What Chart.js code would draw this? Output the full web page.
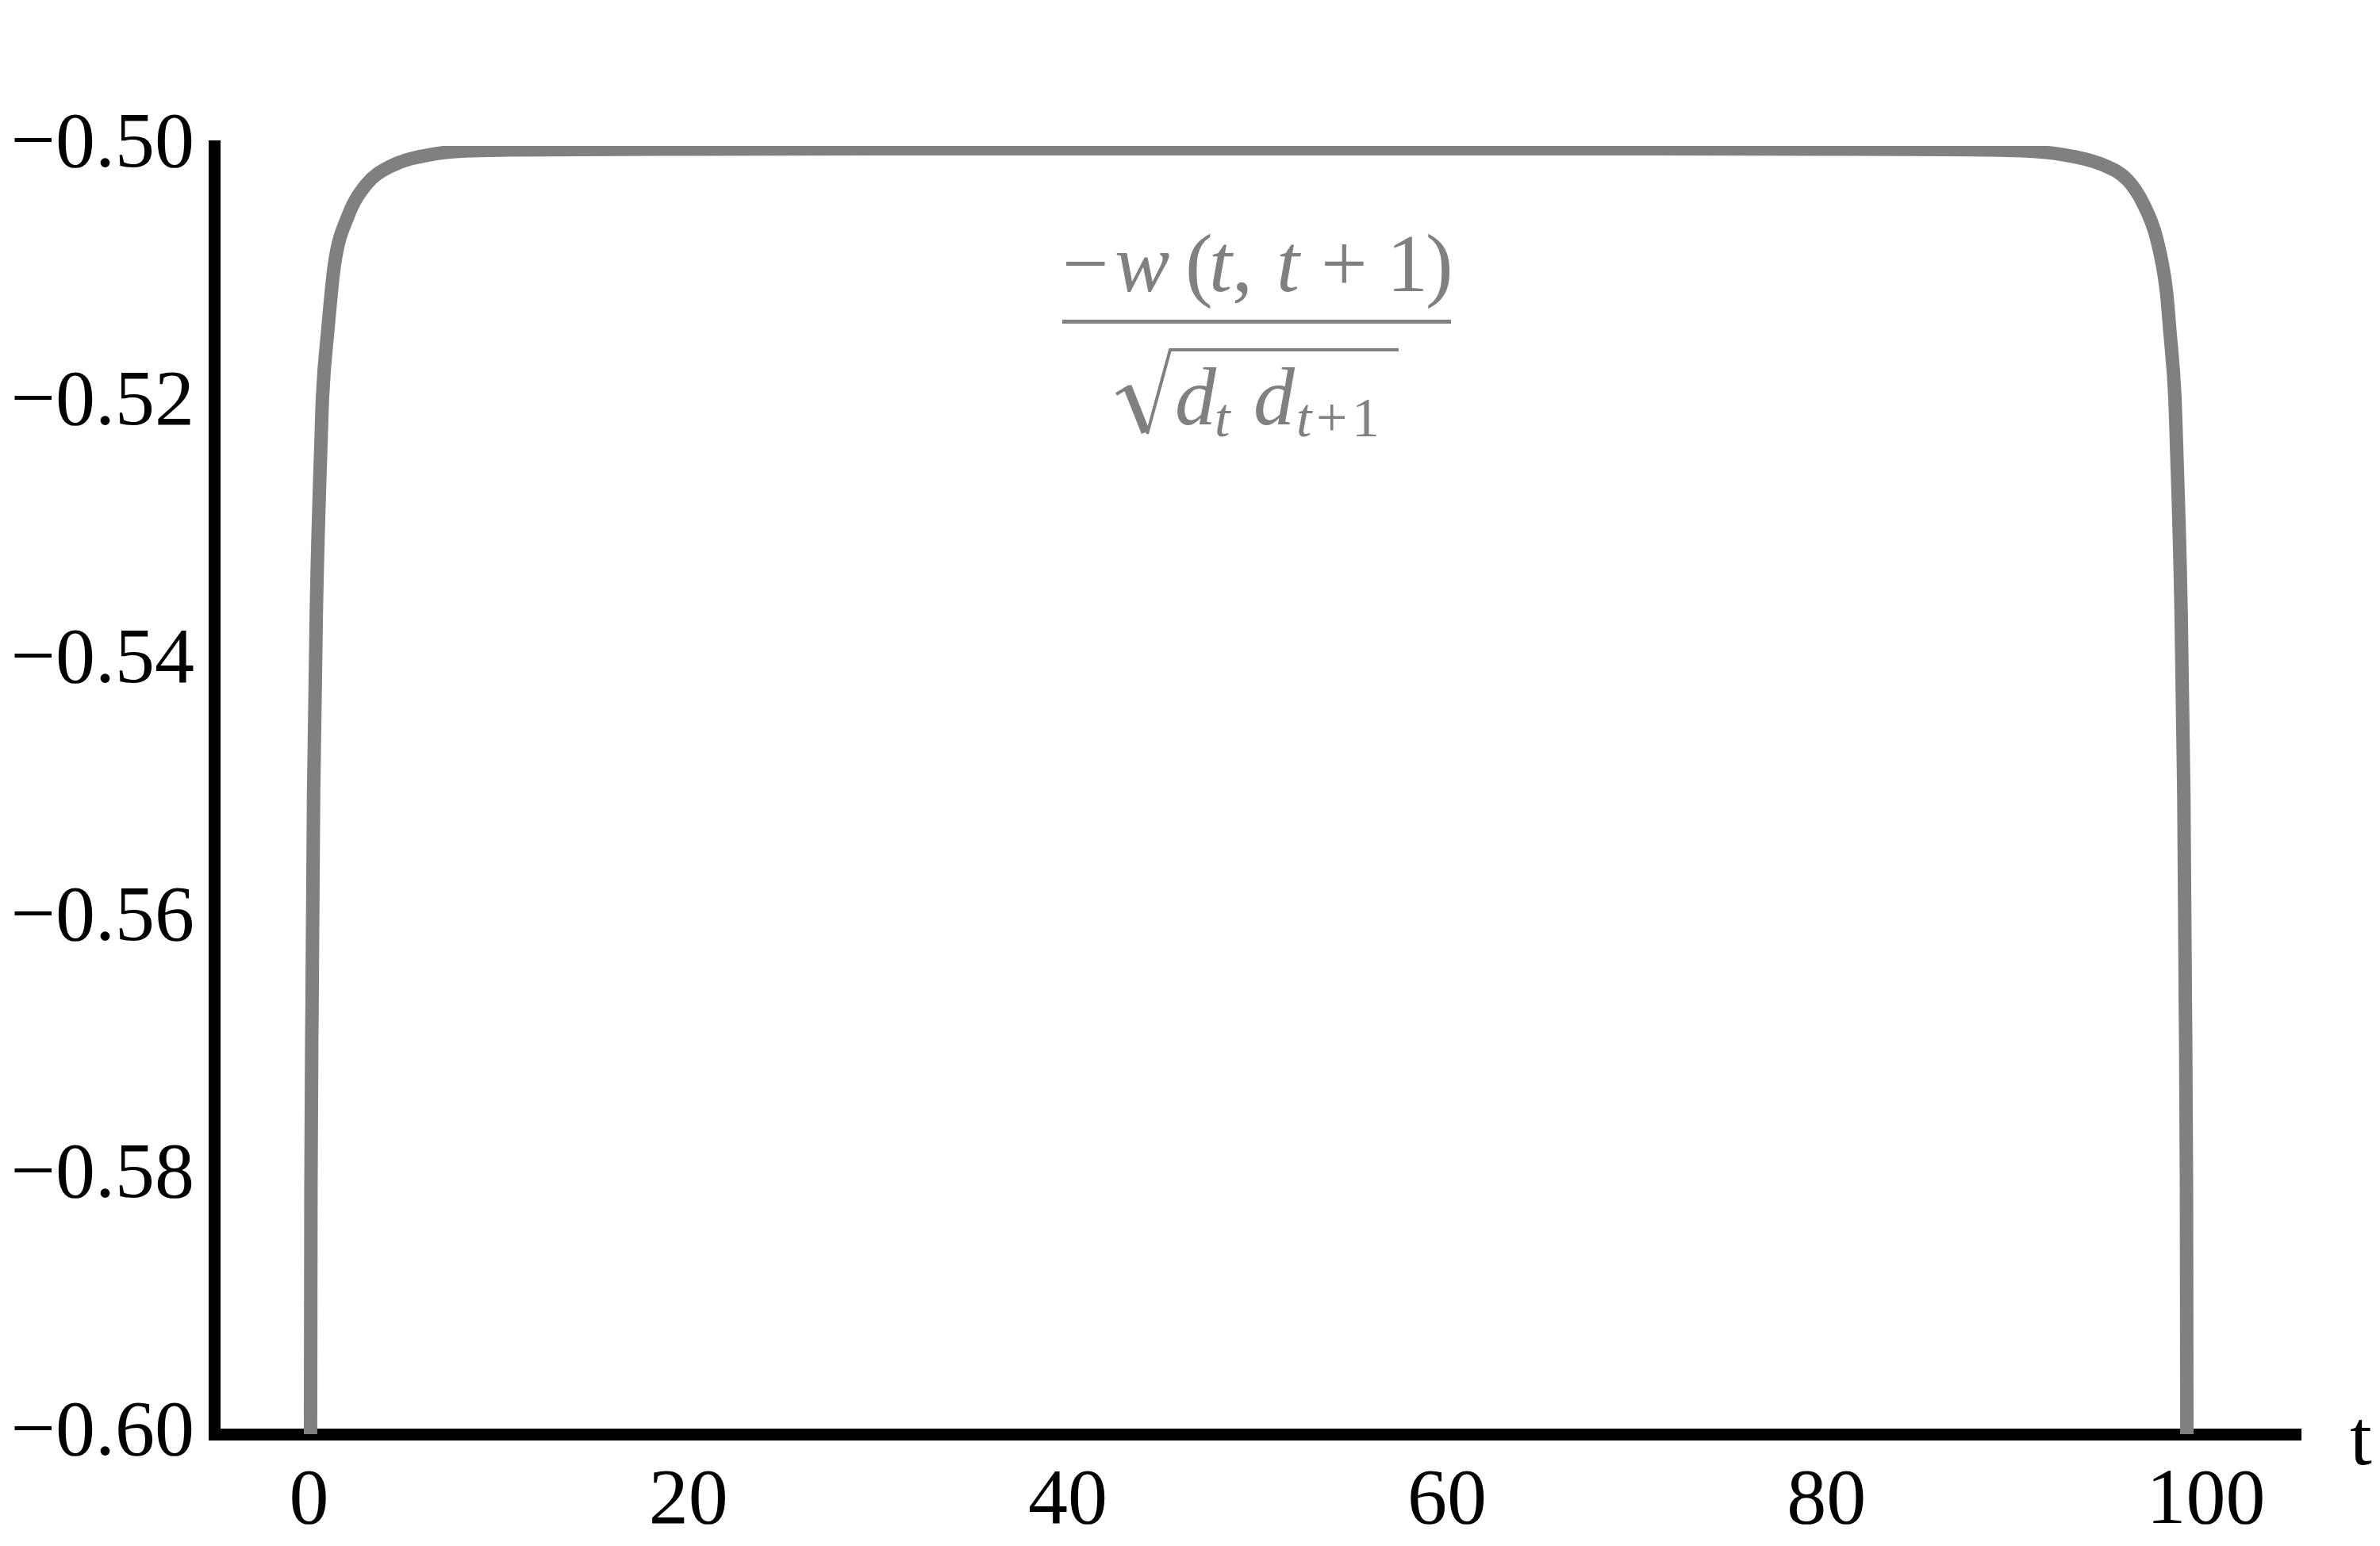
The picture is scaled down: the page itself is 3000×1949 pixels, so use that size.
<!DOCTYPE html>
<html>
<head>
<meta charset="utf-8">
<script src="https://cdn.jsdelivr.net/npm/chart.js@4/dist/chart.umd.min.js"></script>
<style>
  body { margin: 0; background: #fff; }
  canvas { display: block; }
</style>
</head>
<body>
<canvas id="chart1" width="3000" height="1949"></canvas>
<script>
    // valores
    const tValues = [0.06, 0.08, 0.10, 0.16, 0.24, 0.40, 0.64, 0.71, 0.99, 1.34, 2.04, 3.01, 4.27, 6.36, 10.5,
        20, 30, 49.5, 70, 80, 88.3, 92.5, 94.6, 95.86, 96.7, 97.4, 97.92, 98.10, 98.37, 98.44,
        98.68, 98.84, 98.92, 98.98, 99.0, 99.02];
    const wValues = [-0.620, -0.600, -0.581, -0.5666, -0.5503, -0.535, -0.5225, -0.5195, -0.5143, -0.5092, -0.5055, -0.5030, -0.5016, -0.50068, -0.50031,
        -0.50025, -0.50022, -0.50022, -0.50022, -0.50025, -0.50031, -0.50068, -0.50148, -0.50263, -0.50448, -0.50715, -0.51125, -0.5143, -0.5195, -0.5225,
        -0.535, -0.5503, -0.5666, -0.581, -0.600, -0.620];

    const xTicks = [0, 20, 40, 60, 80, 100];
    const yTicks = [-0.60, -0.58, -0.56, -0.54, -0.52, -0.50];

    const gris = '#808080';
    const fuente = "'Liberation Serif', 'Times New Roman', serif";

    const puntos = tValues.map((t, i) => ({ x: t, y: wValues[i] }));

    // formula y etiqueta del eje t
    const formula = {
        id: 'formula',
        afterDraw(chart) {
            const ctx = chart.ctx;
            ctx.save();
            ctx.fillStyle = gris;
            ctx.strokeStyle = gris;
            ctx.textAlign = 'left';
            ctx.textBaseline = 'alphabetic';

            const reg = '104px ' + fuente;
            const ita = 'italic 104px ' + fuente;
            const regS = '70px ' + fuente;
            const itaS = 'italic 70px ' + fuente;

            const num = [
                ['\u2212', reg, 1339], ['w', ita, 1405], ['(', reg, 1494], ['t', ita, 1524],
                [',', reg, 1553], ['t', ita, 1609], ['+', reg, 1665], ['1', reg, 1748], [')', reg, 1797]
            ];
            num.forEach(p => { ctx.font = p[1]; ctx.fillText(p[0], p[2], 367); });

            ctx.fillRect(1339, 403, 490, 5);

            // raiz
            ctx.lineCap = 'butt';
            ctx.lineJoin = 'miter';
            ctx.lineWidth = 4;
            ctx.beginPath(); ctx.moveTo(1407, 497); ctx.lineTo(1424, 487); ctx.stroke();
            ctx.lineWidth = 11;
            ctx.beginPath(); ctx.moveTo(1421, 487); ctx.lineTo(1444, 545); ctx.stroke();
            ctx.lineWidth = 4;
            ctx.beginPath(); ctx.moveTo(1446, 547); ctx.lineTo(1475, 441); ctx.lineTo(1763, 441); ctx.stroke();

            ctx.font = ita; ctx.fillText('d', 1481, 535);
            ctx.font = itaS; ctx.fillText('t', 1531, 550);
            ctx.font = ita; ctx.fillText('d', 1580, 535);
            ctx.font = itaS; ctx.fillText('t', 1634, 550);
            ctx.font = regS; ctx.fillText('+', 1659, 550);
            ctx.fillText('1', 1704, 550);

            ctx.fillStyle = '#000';
            ctx.font = '100px ' + fuente;
            ctx.fillText('t', 2962, 1846);
            ctx.restore();
        }
    };

    new Chart(document.getElementById('chart1'), {
        type: 'line',
        data: {
            datasets: [{
                data: puntos,
                borderColor: gris,
                borderWidth: 17,
                pointRadius: 0,
                fill: false,
                cubicInterpolationMode: 'monotone'
            }]
        },
        options: {
            responsive: false,
            animation: false,
            layout: { padding: { left: 0, right: 100, top: 184, bottom: 0 } },
            plugins: { legend: { display: false }, tooltip: { enabled: false } },
            scales: {
                x: {
                    type: 'linear',
                    min: -5,
                    max: 105,
                    z: 1,
                    afterBuildTicks: s => { s.ticks = xTicks.map(v => ({ value: v })); },
                    afterFit: s => { s.height = 141; },
                    grid: { display: false, drawTicks: false },
                    border: { display: true, color: '#000', width: 15 },
                    ticks: {
                        color: '#000',
                        padding: 26,
                        maxRotation: 0,
                        font: { family: fuente, size: 100 },
                        callback: v => String(v)
                    }
                },
                y: {
                    type: 'linear',
                    min: -0.60,
                    max: -0.50,
                    z: 1,
                    afterBuildTicks: s => { s.ticks = yTicks.map(v => ({ value: v })); },
                    afterFit: s => { s.width = 270; },
                    grid: { display: false, drawTicks: false },
                    border: { display: true, color: '#000', width: 15 },
                    ticks: {
                        color: '#000',
                        padding: 25,
                        font: { family: fuente, size: 100 },
                        callback: v => '\u2212' + Math.abs(v).toFixed(2)
                    }
                }
            }
        },
        plugins: [formula]
    });
</script>
</body>
</html>
